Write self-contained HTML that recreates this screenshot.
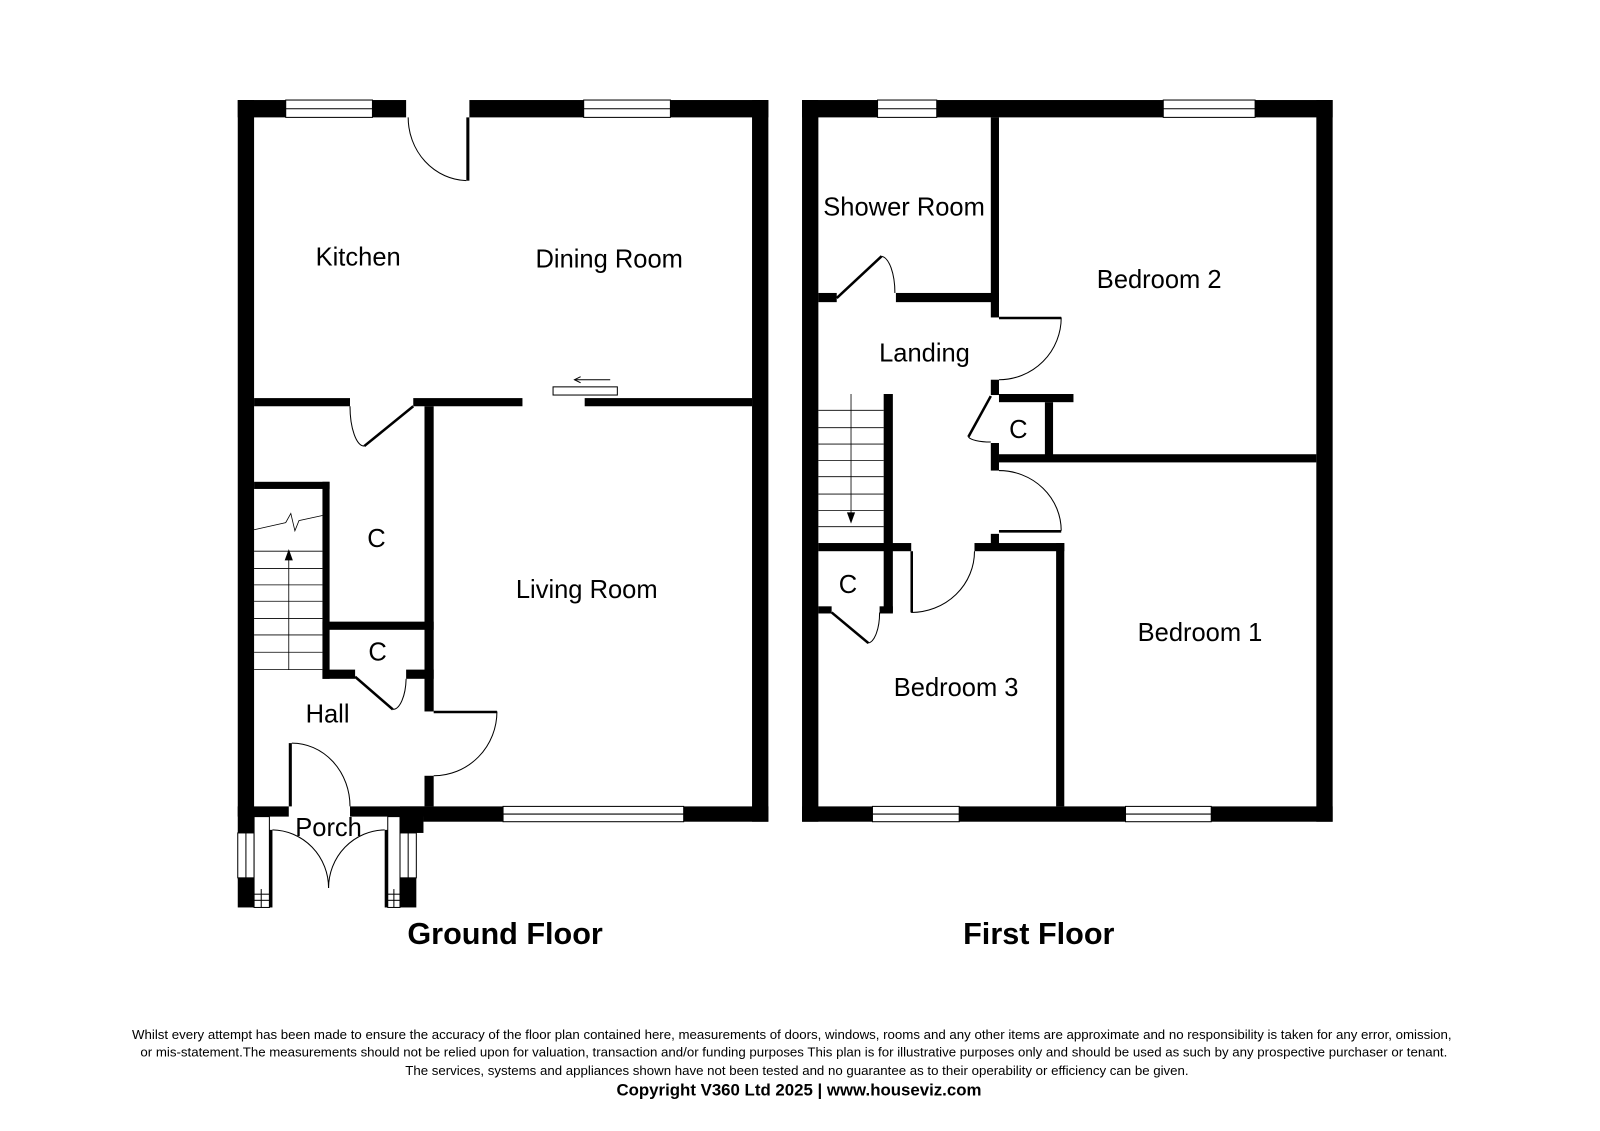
<!DOCTYPE html>
<html><head><meta charset="utf-8"><style>
html,body{margin:0;padding:0;background:#fff;}
svg{display:block;}
text{font-family:"Liberation Sans",Arial,sans-serif;fill:#000;}
</style></head><body>
<svg width="1600" height="1131" viewBox="0 0 1568 1108" preserveAspectRatio="none" xmlns="http://www.w3.org/2000/svg">
<rect width="1568" height="1108" fill="#fff"/>
<g fill="#000">
<rect x="233" y="98" width="47" height="17"/>
<rect x="365" y="98" width="33" height="17"/>
<rect x="460" y="98" width="112" height="17"/>
<rect x="657" y="98" width="96" height="17"/>
<rect x="233" y="98" width="16" height="718"/>
<rect x="737" y="98" width="16" height="707"/>
<rect x="415" y="790" width="78" height="15"/>
<rect x="670" y="790" width="83" height="15"/>
<rect x="233" y="790" width="50" height="10"/>
<rect x="343" y="790" width="82" height="10"/>
<rect x="392" y="790" width="23" height="26"/>
<rect x="249" y="390" width="94" height="8"/>
<rect x="405" y="390" width="107" height="8"/>
<rect x="573" y="390" width="164" height="8"/>
<rect x="416" y="398" width="9" height="299"/>
<rect x="416" y="760" width="9" height="30"/>
<rect x="249" y="472" width="74" height="7"/>
<rect x="316" y="472" width="7" height="193"/>
<rect x="316" y="609" width="109" height="8"/>
<rect x="316" y="656" width="32" height="9"/>
<rect x="398" y="656" width="27" height="9"/>
<rect x="457" y="115" width="3" height="62"/>
<rect x="233" y="860" width="16" height="29"/>
<rect x="392" y="860" width="16" height="29"/>
<rect x="264" y="813" width="3" height="76"/>
<rect x="377" y="813" width="3" height="76"/>
<rect x="283" y="728" width="3" height="62"/>
<rect x="786" y="98" width="74" height="17"/>
<rect x="918" y="98" width="222" height="17"/>
<rect x="1230" y="98" width="76" height="17"/>
<rect x="786" y="98" width="16" height="707"/>
<rect x="1290" y="98" width="16" height="707"/>
<rect x="786" y="790" width="69" height="15"/>
<rect x="940" y="790" width="163" height="15"/>
<rect x="1187" y="790" width="119" height="15"/>
<rect x="971" y="115" width="8" height="196"/>
<rect x="802" y="287" width="18" height="9"/>
<rect x="878" y="287" width="101" height="9"/>
<rect x="971" y="372" width="8" height="15"/>
<rect x="979" y="386" width="73" height="8"/>
<rect x="1024" y="394" width="8" height="52"/>
<rect x="979" y="445" width="311" height="8"/>
<rect x="971" y="434" width="8" height="27"/>
<rect x="971" y="523" width="8" height="10"/>
<rect x="955" y="532" width="88" height="8"/>
<rect x="1035" y="532" width="8" height="258"/>
<rect x="866" y="386" width="9" height="214"/>
<rect x="802" y="532" width="91" height="8"/>
<rect x="802" y="594" width="13" height="7"/>
<rect x="862" y="594" width="13" height="7"/>
</g>
<g fill="#fff" stroke="#000" stroke-width="1">
<rect x="280" y="98" width="85" height="17"/><line x1="280" y1="106.5" x2="365" y2="106.5"/>
<rect x="572" y="98" width="85" height="17"/><line x1="572" y1="106.5" x2="657" y2="106.5"/>
<rect x="493" y="790" width="177" height="15"/><line x1="493" y1="797.5" x2="670" y2="797.5"/>
<rect x="860" y="98" width="58" height="17"/><line x1="860" y1="106.5" x2="918" y2="106.5"/>
<rect x="1140" y="98" width="90" height="17"/><line x1="1140" y1="106.5" x2="1230" y2="106.5"/>
<rect x="855" y="790" width="85" height="15"/><line x1="855" y1="797.5" x2="940" y2="797.5"/>
<rect x="1103" y="790" width="84" height="15"/><line x1="1103" y1="797.5" x2="1187" y2="797.5"/>
<rect x="233" y="816" width="16" height="44"/><line x1="241" y1="816" x2="241" y2="860"/>
<rect x="392" y="816" width="16" height="44"/><line x1="400" y1="816" x2="400" y2="860"/>
<rect x="249" y="800" width="15" height="89"/>
<rect x="380" y="800" width="12" height="89"/>
<line x1="249" y1="876" x2="264" y2="876"/><line x1="249" y1="882" x2="264" y2="882"/><line x1="256" y1="871" x2="256" y2="889"/>
<line x1="380" y1="876" x2="392" y2="876"/><line x1="380" y1="882" x2="392" y2="882"/><line x1="386" y1="871" x2="386" y2="889"/>
<rect x="542" y="379" width="63" height="8"/>
</g>
<g fill="none" stroke="#000" stroke-width="1">
<path d="M400 115 A59 62 0 0 0 457 177"/>
<path d="M343 398 A14 39 0 0 0 357 437"/>
<path d="M487 697 A62 63 0 0 1 425 760"/>
<path d="M385 695 A13 32 0 0 0 398 665"/>
<path d="M286 728 A57 62 0 0 1 343 790"/>
<path d="M267 813 A56 57 0 0 1 322 870"/>
<path d="M377 813 A56 57 0 0 0 322 870"/>
<line x1="563" y1="372" x2="598" y2="372"/><path d="M569 369 L563 372 L569 375"/>
<g stroke-width="0.8">
<line x1="249" y1="540" x2="316" y2="540"/><line x1="249" y1="557" x2="316" y2="557"/><line x1="249" y1="573" x2="316" y2="573"/>
<line x1="249" y1="589" x2="316" y2="589"/><line x1="249" y1="606" x2="316" y2="606"/><line x1="249" y1="622" x2="316" y2="622"/>
<line x1="249" y1="639" x2="316" y2="639"/><line x1="249" y1="656" x2="316" y2="656"/>
<path d="M249 519 L280 512 L285 503 L289 520 L293 510 L316 505"/>
<line x1="283" y1="656" x2="283" y2="540"/>
</g>
<path d="M864 251 A14 36 0 0 1 877 287"/>
<path d="M1040 311 A61 61 0 0 1 979 372"/>
<path d="M949 428 A22 6 0 0 0 971 433"/>
<path d="M979 461 A61 59 0 0 1 1040 520"/>
<path d="M893 600 A62 60 0 0 0 955 540"/>
<path d="M851 630 A12 30 0 0 0 862 600"/>
<g stroke-width="0.8">
<line x1="802" y1="402" x2="866" y2="402"/><line x1="802" y1="419" x2="866" y2="419"/><line x1="802" y1="435" x2="866" y2="435"/>
<line x1="802" y1="451" x2="866" y2="451"/><line x1="802" y1="467" x2="866" y2="467"/><line x1="802" y1="484" x2="866" y2="484"/>
<line x1="802" y1="500" x2="866" y2="500"/><line x1="802" y1="516" x2="866" y2="516"/>
<line x1="834" y1="386" x2="834" y2="505"/>
</g>
</g>
<g stroke="#000" stroke-width="2.5" fill="none">
<line x1="357" y1="437" x2="405" y2="398"/>
<line x1="348" y1="663" x2="385" y2="695"/>
<line x1="425" y1="697.5" x2="487" y2="697.5"/>
<line x1="820" y1="292" x2="864" y2="251"/>
<line x1="979" y1="311.5" x2="1040" y2="311.5"/>
<line x1="971" y1="388" x2="949" y2="428"/>
<line x1="979" y1="520.5" x2="1040" y2="520.5"/>
<line x1="893.5" y1="540" x2="893.5" y2="600"/>
<line x1="815" y1="600" x2="851" y2="630"/>
</g>
<path d="M279 549 L283 538 L287 549 Z" fill="#000"/>
<path d="M830 502 L834 513 L838 502 Z" fill="#000"/>
<g font-size="25" text-anchor="middle">
<text x="351" y="260">Kitchen</text>
<text x="597" y="262">Dining Room</text>
<text x="575" y="586">Living Room</text>
<text x="369" y="536">C</text>
<text x="370" y="647">C</text>
<text x="321" y="708">Hall</text>
<text x="322" y="819">Porch</text>
<text x="886" y="211">Shower Room</text>
<text x="1136" y="282">Bedroom 2</text>
<text x="906" y="354">Landing</text>
<text x="998" y="429">C</text>
<text x="1176" y="628">Bedroom 1</text>
<text x="831" y="581">C</text>
<text x="937" y="682">Bedroom 3</text>
</g>
<g font-size="30" font-weight="bold" text-anchor="middle">
<text x="495" y="925">Ground Floor</text>
<text x="1018" y="925">First Floor</text>
</g>
<g font-size="13" text-anchor="middle">
<text x="776" y="1018">Whilst every attempt has been made to ensure the accuracy of the floor plan contained here, measurements of doors, windows, rooms and any other items are approximate and no responsibility is taken for any error, omission,</text>
<text x="778" y="1035">or mis-statement.The measurements should not be relied upon for valuation, transaction and/or funding purposes This plan is for illustrative purposes only and should be used as such by any prospective purchaser or tenant.</text>
<text x="781" y="1053">The services, systems and appliances shown have not been tested and no guarantee as to their operability or efficiency can be given.</text>
<text x="783" y="1073" font-size="16.5" font-weight="bold">Copyright V360 Ltd 2025 | www.houseviz.com</text>
</g>
</svg>
</body></html>
